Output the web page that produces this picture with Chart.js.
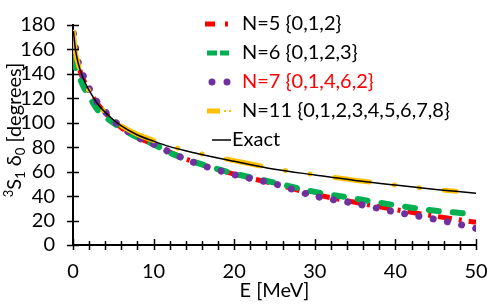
<!DOCTYPE html>
<html>
<head>
<meta charset="utf-8">
<script src="https://cdn.jsdelivr.net/npm/chart.js@4.4.1/dist/chart.umd.min.js"></script>
<style>
body { margin: 0; background: #fff; }
</style>
</head>
<body>
<canvas id="myChart" width="498" height="306"></canvas>
<script>
// energies in MeV
const energies = [0.05, 0.3, 0.6, 1, 1.5, 2, 3, 4, 5, 6, 8, 10, 12, 15, 20, 25, 30, 35, 40, 45, 47.5, 50];

// phase shifts in degrees
const exactValues = [175, 160, 150, 141, 133, 126.5, 116, 108.5, 102.5, 97.5, 90, 85, 80.5, 75.5, 68.5, 62, 57.3, 52.8, 49, 45.5, 43.9, 42.3];
const n11Values   = [174, 158, 149, 140, 132.5, 126, 115.5, 108.5, 102.5, 97.5, 90.5, 85.5, 81, 76, 69, 62.5, 57.5, 53, 49, 45.5, 44, null];
const n6Values    = [153, 146, 140, 134, 127, 121.5, 111, 105, 100, 95.5, 88, 82.5, 75.5, 68, 58.5, 51, 43.5, 38, 32.5, 28, 26.5, 25];
const n5Values    = [168, 157, 149, 140, 132.5, 126, 116, 108, 101.5, 96, 88, 82.5, 76, 68, 58, 50, 41.5, 35, 29, 23.5, 21, 18.5];
const n7Values    = [173, 162, 151, 143, 135, 128, 117, 109, 102, 96.5, 88, 82.5, 76, 67.5, 57.5, 50, 40, 34, 27, 21, 17.5, 13.5];

const legendLabels = ['N=5 {0,1,2}', 'N=6 {0,1,2,3}', 'N=7 {0,1,4,6,2}', 'N=11 {0,1,2,3,4,5,6,7,8}', 'Exact'];

const RED = '#FF0000';
const GREEN = '#00B050';
const PURPLE = '#7030A0';
const ORANGE = '#FFC000';
const FONT = 'Lato';

function toPoints(values) {
    return energies.map((e, i) => ({ x: e, y: values[i] }));
}

// ticks that cross the axes, like the excel ones
const crossTicks = {
    id: 'crossTicks',
    afterDraw(chart) {
        const ctx = chart.ctx;
        const xs = chart.scales.x;
        const ys = chart.scales.y;
        const area = chart.chartArea;
        ctx.save();
        ctx.strokeStyle = '#000';
        ctx.lineWidth = 1.5;
        ctx.beginPath();
        for (let v = 0; v <= 180; v += 20) {
            const py = Math.round(ys.getPixelForValue(v)) + 0.5;
            ctx.moveTo(area.left - 6, py);
            ctx.lineTo(area.left + 6, py);
        }
        for (let v = 0; v <= 50; v += 2) {
            const px = Math.round(xs.getPixelForValue(v)) + 0.5;
            const up = v % 10 === 0 ? 6 : 4;
            ctx.moveTo(px, area.bottom - up);
            ctx.lineTo(px, area.bottom + 5);
        }
        ctx.stroke();
        ctx.restore();
    }
};

// y axis title with super/subscripts
const yTitle = {
    id: 'yTitle',
    afterDraw(chart) {
        const ctx = chart.ctx;
        const big = '20px ' + FONT;
        const small = '13px ' + FONT;
        const parts = [
            { t: '3', f: small, dy: -8 },
            { t: 'S', f: big, dy: 0 },
            { t: '1', f: small, dy: 4 },
            { t: ' \u03B4', f: big, dy: 0 },
            { t: '0', f: small, dy: 4 },
            { t: ' [degrees]', f: big, dy: 0 }
        ];
        let total = 0;
        parts.forEach(p => { ctx.font = p.f; p.w = ctx.measureText(p.t).width; total += p.w; });
        const area = chart.chartArea;
        ctx.save();
        ctx.translate(21, (area.top + area.bottom) / 2 - 5);
        ctx.rotate(-Math.PI / 2);
        ctx.fillStyle = '#000';
        ctx.textBaseline = 'alphabetic';
        let x = -total / 2;
        parts.forEach(p => {
            ctx.font = p.f;
            ctx.fillText(p.t, x, p.dy);
            x += p.w;
        });
        ctx.restore();
    }
};

// legend drawn by hand so the line samples look like the excel ones
const sideLegend = {
    id: 'sideLegend',
    afterDraw(chart) {
        const ctx = chart.ctx;
        const rows = [24, 53, 82, 111, 140];
        ctx.save();
        ctx.font = '20px ' + FONT;
        ctx.textBaseline = 'middle';

        // N=5 red long dash dot
        ctx.strokeStyle = RED;
        ctx.lineWidth = 5;
        ctx.beginPath();
        ctx.moveTo(205, rows[0]); ctx.lineTo(215, rows[0]);
        ctx.moveTo(225, rows[0]); ctx.lineTo(228, rows[0]);
        ctx.stroke();

        // N=6 green dashes
        ctx.strokeStyle = GREEN;
        ctx.beginPath();
        ctx.moveTo(207, rows[1]); ctx.lineTo(217, rows[1]);
        ctx.moveTo(220, rows[1]); ctx.lineTo(229, rows[1]);
        ctx.stroke();

        // N=7 purple dots
        ctx.fillStyle = PURPLE;
        [212, 227].forEach(cx => {
            ctx.beginPath();
            ctx.arc(cx, rows[2], 3.5, 0, Math.PI * 2);
            ctx.fill();
        });

        // N=11 orange long dash dot dot
        ctx.strokeStyle = ORANGE;
        ctx.beginPath();
        ctx.moveTo(207, rows[3]); ctx.lineTo(220, rows[3]);
        ctx.stroke();
        ctx.lineWidth = 2;
        ctx.beginPath();
        ctx.moveTo(224, rows[3]); ctx.lineTo(226, rows[3]);
        ctx.moveTo(229, rows[3]); ctx.lineTo(231, rows[3]);
        ctx.stroke();

        // Exact
        ctx.strokeStyle = '#000';
        ctx.lineWidth = 1.5;
        ctx.beginPath();
        ctx.moveTo(212, rows[4]); ctx.lineTo(231, rows[4]);
        ctx.stroke();

        legendLabels.forEach((lab, i) => {
            ctx.fillStyle = i === 2 ? RED : '#000';
            ctx.fillText(lab, i === 4 ? 232 : 242, rows[i]);
        });
        ctx.restore();
    }
};

const config = {
    type: 'line',
    data: {
        datasets: [
            {
                label: legendLabels[4],
                data: toPoints(exactValues),
                borderColor: '#000',
                borderWidth: 1.5,
                order: 0
            },
            {
                label: legendLabels[3],
                data: toPoints(n11Values),
                borderColor: ORANGE,
                borderWidth: 5,
                borderCapStyle: 'round',
                borderDash: [35, 25, 0.01, 25, 0.01, 25],
                order: 1
            },
            {
                label: legendLabels[2],
                data: toPoints(n7Values),
                borderColor: PURPLE,
                borderWidth: 7,
                borderCapStyle: 'round',
                borderDash: [0.01, 14.5],
                order: 2
            },
            {
                label: legendLabels[1],
                data: toPoints(n6Values),
                borderColor: GREEN,
                borderWidth: 6,
                borderCapStyle: 'round',
                borderDash: [10, 14],
                order: 3
            },
            {
                label: legendLabels[0],
                data: toPoints(n5Values),
                borderColor: RED,
                borderWidth: 5,
                borderDash: [14, 7, 3, 7],
                order: 4
            }
        ]
    },
    options: {
        responsive: false,
        animation: false,
        spanGaps: false,
        elements: {
            point: { radius: 0 },
            line: { cubicInterpolationMode: 'monotone', fill: false }
        },
        layout: { padding: { top: 25, right: 22, left: 0, bottom: 0 } },
        plugins: {
            legend: { display: false },
            tooltip: { enabled: false }
        },
        scales: {
            x: {
                type: 'linear',
                min: 0,
                max: 50,
                grid: { display: false },
                border: { display: true, color: '#000', width: 2 },
                ticks: {
                    stepSize: 2,
                    autoSkip: false,
                    maxRotation: 0,
                    padding: 7,
                    color: '#000',
                    font: { family: FONT, size: 20 },
                    callback: v => (v % 10 === 0 ? v : '')
                },
                title: {
                    display: true,
                    text: 'E [MeV]',
                    color: '#000',
                    font: { family: FONT, size: 20 },
                    padding: { top: 0, bottom: 3 }
                },
                afterFit: scale => { scale.height = 61; }
            },
            y: {
                min: 0,
                max: 180,
                grid: { display: false },
                border: { display: true, color: '#000', width: 2 },
                ticks: {
                    stepSize: 20,
                    autoSkip: false,
                    padding: 10,
                    color: '#000',
                    font: { family: FONT, size: 20 }
                },
                afterFit: scale => { scale.width = 73; }
            }
        }
    },
    plugins: [crossTicks, yTitle, sideLegend]
};

const myChart = new Chart(document.getElementById('myChart'), config);
</script>
</body>
</html>
